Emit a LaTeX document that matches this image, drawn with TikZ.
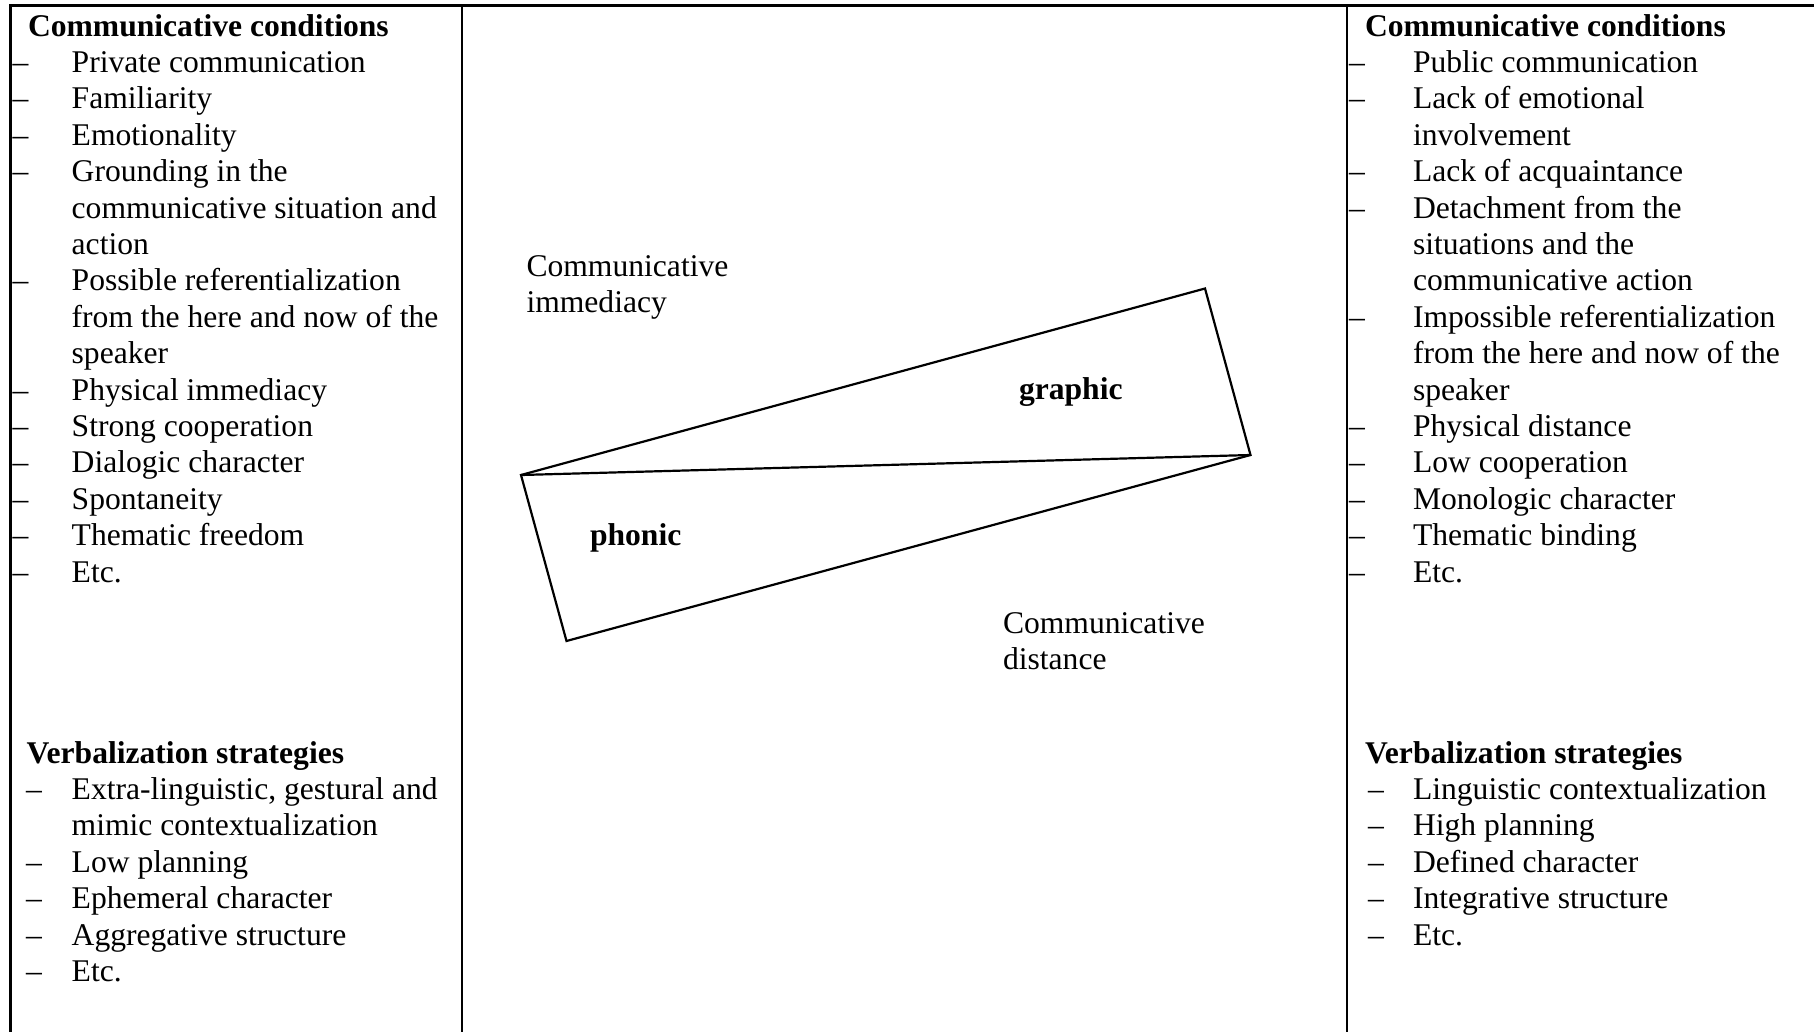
\documentclass[tikz,border=0pt]{standalone}
\usepackage{fontspec}
\setmainfont{Liberation Serif}
% one row of a list: dash at offset #1, item text starting at offset #2
\newcommand\dashrow[3]{\hbox{\hskip#1pt\hbox to \dimexpr#2pt-#1pt\relax{–\hss}#3}}
% one row of plain text starting at offset #1
\newcommand\textrow[2]{\hbox{\hskip#1pt #2}}
\begin{document}
\begin{tikzpicture}[x=1pt,y=-1pt,
  txt/.style={inner sep=0pt, outer sep=0pt, anchor=base west,
    font=\fontsize{31.6}{36.4}\selectfont},
  rule/.style={line width=2.7pt, line cap=rect},
  band/.style={line width=2.2pt, line join=miter}]
\useasboundingbox (0,0) rectangle (1814,1031);

% table frame: open at the right and at the bottom
\draw[rule] (10.7,1031) -- (10.7,5.5) -- (1814,5.5);
\draw[rule] (462,5.5) -- (462,1031);
\draw[rule] (1347,5.5) -- (1347,1031);

% left column
\node[txt] (lefttop) at (12.7,36) {\vtop{%
  \textrow{15.3}{\textbf{Communicative conditions}}
  \dashrow{0}{59}{Private communication}
  \dashrow{0}{59}{Familiarity}
  \dashrow{0}{59}{Emotionality}
  \dashrow{0}{59}{Grounding in the}
  \textrow{59}{communicative situation and}
  \textrow{59}{action}
  \dashrow{0}{59}{Possible referentialization}
  \textrow{59}{from the here and now of the}
  \textrow{59}{speaker}
  \dashrow{0}{59}{Physical immediacy}
  \dashrow{0}{59}{Strong cooperation}
  \dashrow{0}{59}{Dialogic character}
  \dashrow{0}{59}{Spontaneity}
  \dashrow{0}{59}{Thematic freedom}
  \dashrow{0}{59}{Etc.}}};
\node[txt] (leftbottom) at (26,763) {\vtop{%
  \textrow{0.7}{\textbf{Verbalization strategies}}
  \dashrow{0}{45.7}{Extra-linguistic, gestural and}
  \textrow{45.7}{mimic contextualization}
  \dashrow{0}{45.7}{Low planning}
  \dashrow{0}{45.7}{Ephemeral character}
  \dashrow{0}{45.7}{Aggregative structure}
  \dashrow{0}{45.7}{Etc.}}};

% right column
\node[txt] (righttop) at (1349,36) {\vtop{%
  \textrow{16}{\textbf{Communicative conditions}}
  \dashrow{0}{64}{Public communication}
  \dashrow{0}{64}{Lack of emotional}
  \textrow{64}{involvement}
  \dashrow{0}{64}{Lack of acquaintance}
  \dashrow{0}{64}{Detachment from the}
  \textrow{64}{situations and the}
  \textrow{64}{communicative action}
  \dashrow{0}{64}{Impossible referentialization}
  \textrow{64}{from the here and now of the}
  \textrow{64}{speaker}
  \dashrow{0}{64}{Physical distance}
  \dashrow{0}{64}{Low cooperation}
  \dashrow{0}{64}{Monologic character}
  \dashrow{0}{64}{Thematic binding}
  \dashrow{0}{64}{Etc.}}};
\node[txt] (rightbottom) at (1365,763) {\vtop{%
  \textrow{0}{\textbf{Verbalization strategies}}
  \dashrow{3}{48}{Linguistic contextualization}
  \dashrow{3}{48}{High planning}
  \dashrow{3}{48}{Defined character}
  \dashrow{3}{48}{Integrative structure}
  \dashrow{3}{48}{Etc.}}};

% central band: parallelogram split along its long diagonal
\coordinate (L)  at (521,475);
\coordinate (TR) at (1205,288.5);
\coordinate (R)  at (1250.5,455);
\coordinate (BL) at (566.5,641);
\draw[band] (L) -- (TR) -- (R) -- (BL) -- cycle;
\draw[band] (L) -- (R);

\node[txt] (graphic) at (1019,399) {\textbf{graphic}};
\node[txt] (phonic) at (590,545) {\textbf{phonic}};

\node[txt] (immediacy) at (526.5,276) {\vtop{%
  \textrow{0}{Communicative}
  \textrow{0}{immediacy}}};
\node[txt] (distance) at (1003,633) {\vtop{%
  \textrow{0}{Communicative}
  \textrow{0}{distance}}};
\end{tikzpicture}
\end{document}
